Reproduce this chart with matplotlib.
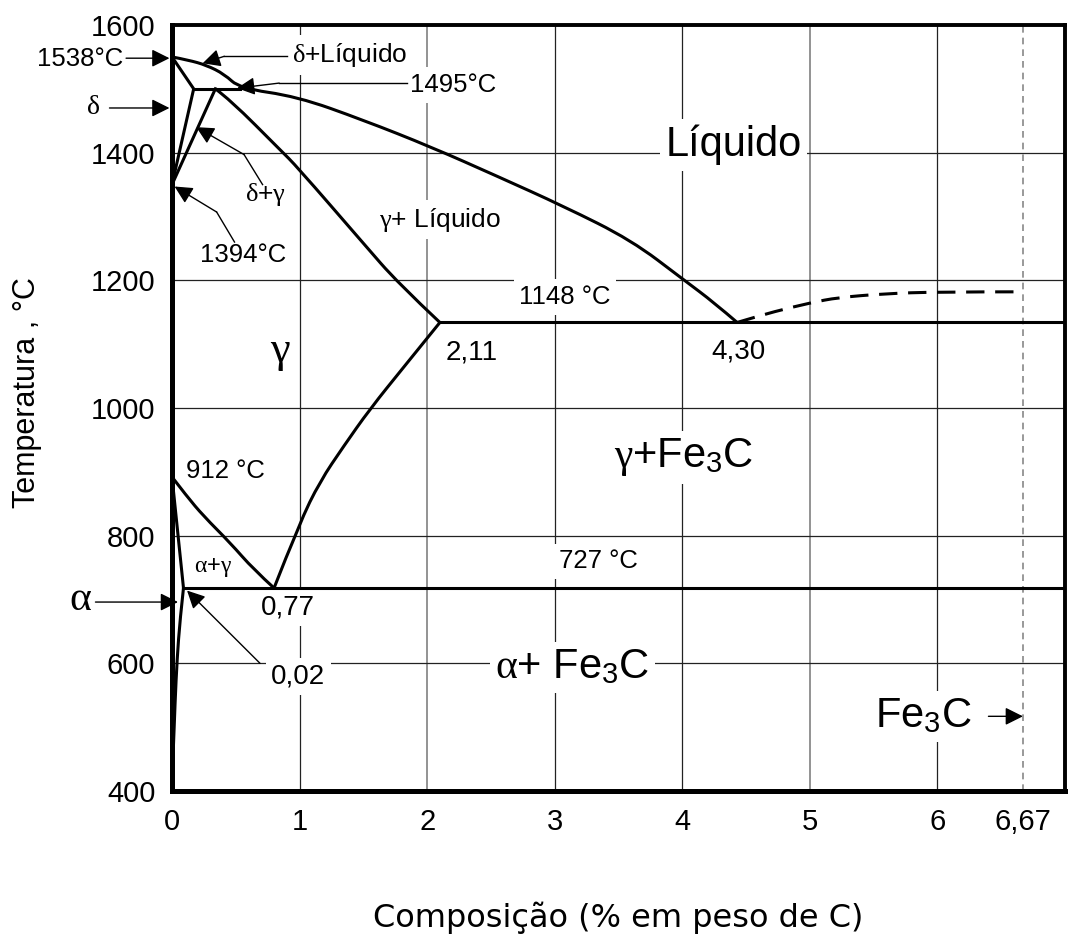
import matplotlib.pyplot as plt
from matplotlib.path import Path
from matplotlib.patches import PathPatch

plt.rcParams['font.family'] = ['Liberation Sans', 'DejaVu Sans']
plt.rcParams['mathtext.fontset'] = 'custom'
plt.rcParams['mathtext.rm'] = 'Liberation Serif'
plt.rcParams['mathtext.it'] = 'Liberation Serif:italic'
plt.rcParams['mathtext.bf'] = 'Liberation Serif:bold'
plt.rcParams['mathtext.default'] = 'rm'

# phase boundaries (%C, temperature C)
liq_c = [0, 0.13, 0.27, 0.41, 0.53, 0.98, 1.50, 2.03, 2.55, 3.07, 3.60, 4.01, 4.25, 4.43]
liq_t = [1550, 1545, 1537, 1523, 1501, 1488, 1451, 1409, 1363, 1316, 1263, 1201, 1165, 1134]

delta_c = [0, 0.17, 0]
delta_t = [1550, 1500, 1350]
peri_c = [0.17, 0.53]
peri_t = [1500, 1500]
dg_c = [0.34, 0]
dg_t = [1500, 1350]

sol_c = [0.34, 0.455, 0.85, 0.98, 1.50, 1.77, 2.10]
sol_t = [1500, 1483, 1404, 1378, 1258, 1196, 1134]
eut_c = [2.10, 7.0]
eut_t = [1134, 1134]
cem_c = [4.43, 4.48, 4.72, 5.01, 5.22, 5.58, 6.00, 6.67]
cem_t = [1134, 1137, 1151, 1165, 1173, 1179, 1182, 1182]

acm_c = [0.80, 1.00, 1.16, 1.345, 1.55, 1.82, 2.10]
acm_t = [718, 820, 885, 940, 998, 1065, 1134]
a3_c = [0, 0.115, 0.246, 0.455, 0.64, 0.80]
a3_t = [892, 862, 831, 789, 747, 718]
ag_c = [0, 0.09]
ag_t = [892, 718]
solvus_c = [0.09, 0.063, 0.04, 0.024, 0.01, 0]
solvus_t = [718, 669, 607, 539, 461, 420]
eutd_c = [0.09, 7.0]
eutd_t = [718, 718]

xticks = [0, 1, 2, 3, 4, 5, 6, 6.67]
xtick_labels = ['0', '1', '2', '3', '4', '5', '6', '6,67']
yticks = [400, 600, 800, 1000, 1200, 1400, 1600]
light_grid_x = [2, 5]

# labels: text, x, T, size
label_txt = ['Líquido', r'$\gamma$+ Líquido', r'$\gamma$', r'$\gamma$+Fe$_\mathregular{3}$C',
             r'$\alpha$+$\gamma$', r'$\alpha$+ Fe$_\mathregular{3}$C', r'$\delta$+$\gamma$',
             r'$\delta$+Líquido', '1148 °C', '2,11', '4,30', '912 °C', '727 °C', '0,77',
             '0,02', '1495°C', '1394°C', '1538°C', r'$\delta$', r'$\alpha$',
             r'Fe$_\mathregular{3}$C']
label_x = [4.40, 2.10, 0.85, 4.01, 0.32, 3.14, 0.73, 1.39, 3.08, 2.35, 4.44, 0.42, 3.34, 0.91,
           0.99, 2.20, 0.56, -0.72, -0.62, -0.72, 5.89]
label_t = [1412, 1295, 1087, 923, 750, 594, 1334, 1553, 1174, 1087, 1088, 901, 760, 688,
           580, 1506, 1240, 1547, 1472, 700, 517]
label_size = [30, 19, 32, 30, 17, 30, 19, 19, 18.5, 20, 20, 18.5, 18.5, 20,
              20, 18.5, 18.5, 18.5, 20, 30, 30]

# arrows (tail -> tip) and thin leader lines
arrow_tail = [(-0.36, 1548), (-0.49, 1470), (0.41, 1551), (0.84, 1509), (0.565, 1397),
              (0.35, 1307), (0.69, 600), (-0.60, 696), (6.40, 517)]
arrow_tip = [(-0.02, 1548), (-0.02, 1470), (0.24, 1540), (0.51, 1501), (0.19, 1440),
             (0.02, 1347), (0.118, 714), (0.047, 696), (6.67, 517)]
leaders = [([0.90, 0.41], [1551, 1551]), ([1.84, 0.84], [1509, 1509]),
           ([0.71, 0.565], [1350, 1397]), ([0.49, 0.35], [1260, 1307])]


def smooth_curve(xs, ys):
    # quadratic b-spline through the read points (ends kept)
    pts = list(zip(xs, ys))
    if len(pts) < 3:
        return Path(pts)
    verts = [pts[0]]
    codes = [Path.MOVETO]
    for i in range(1, len(pts) - 1):
        if i == len(pts) - 2:
            end = pts[-1]
        else:
            end = ((pts[i][0] + pts[i + 1][0]) / 2, (pts[i][1] + pts[i + 1][1]) / 2)
        verts += [pts[i], end]
        codes += [Path.CURVE3, Path.CURVE3]
    return Path(verts, codes)


fig = plt.figure(figsize=(10.68, 9.34), dpi=100)
ax = fig.add_axes([172/1068, 1-791/934, (1065-172)/1068, (791-25)/934])

lw = 2.2
for c, t in [(delta_c, delta_t), (peri_c, peri_t), (dg_c, dg_t),
             (eut_c, eut_t), (ag_c, ag_t), (eutd_c, eutd_t)]:
    ax.plot(c, t, color='black', lw=lw, zorder=3)
for c, t in [(liq_c, liq_t), (sol_c, sol_t), (acm_c, acm_t), (a3_c, a3_t),
             (solvus_c, solvus_t)]:
    ax.add_patch(PathPatch(smooth_curve(c, t), fill=False, edgecolor='black',
                           lw=lw, zorder=3))
ax.add_patch(PathPatch(smooth_curve(cem_c, cem_t), fill=False, edgecolor='black',
                       lw=lw, ls=(0, (6, 3.5)), zorder=3))
ax.axvline(6.67, color='#888888', lw=1.2, ls=(0, (4, 3)), zorder=1)

ax.set_xlim(0, 7.0)
ax.set_ylim(400, 1600)
ax.set_xticks(xticks)
ax.set_xticklabels(xtick_labels)
ax.set_yticks(yticks)
ax.tick_params(length=0, labelsize=21, pad=12)
ax.grid(True, color='#222222', lw=0.9)
ax.set_axisbelow(True)
for tick, line in zip(xticks, ax.get_xgridlines()):
    if tick == 6.67:
        line.set_visible(False)
    elif tick in light_grid_x:
        line.set_color('#8a8a8a')
        line.set_linewidth(1.3)

for side in ['left', 'bottom']:
    ax.spines[side].set_linewidth(3.6)
for side in ['top', 'right']:
    ax.spines[side].set_linewidth(2.8)

for s, x, t, fs in zip(label_txt, label_x, label_t, label_size):
    ax.text(x, t, s, fontsize=fs, ha='center', va='center', zorder=2,
            bbox=dict(facecolor='white', edgecolor='none', pad=4))

for xs, ts in leaders:
    ax.plot(xs, ts, color='black', lw=1, zorder=4, clip_on=False)
for tail, tip in zip(arrow_tail, arrow_tip):
    ax.annotate('', xy=tip, xytext=tail, annotation_clip=False, zorder=4,
                arrowprops=dict(arrowstyle='-|>,head_length=0.6,head_width=0.3',
                                mutation_scale=18, lw=1, color='black',
                                shrinkA=0, shrinkB=0))

ax.set_ylabel('Temperatura , °C', fontsize=22, va='center')
ax.yaxis.set_label_coords(-0.162, 0.52)
ax.set_xlabel('Composição (% em peso de C)', fontsize=23, family='DejaVu Sans', va='center')
ax.xaxis.set_label_coords(0.5, -0.165)

fig.savefig('out.png', dpi=100)
